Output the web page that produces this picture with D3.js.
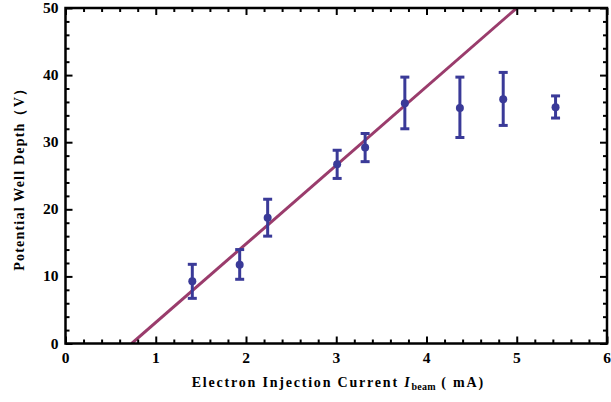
<!DOCTYPE html>
<html><head><meta charset="utf-8">
<script src="https://cdn.jsdelivr.net/npm/d3@7"></script>
<style>body{margin:0;background:#fff}svg{display:block}</style>
</head><body>
<script>
const currents = [1.405, 1.93, 2.24, 3.01, 3.32, 3.76, 4.37, 4.85, 5.43];
const depths   = [9.27, 11.75, 18.75, 26.7, 29.2, 35.8, 35.1, 36.4, 35.2];
const errUpper = [11.8, 14.0, 21.5, 28.8, 31.3, 39.7, 39.7, 40.4, 36.9];
const errLower = [6.73, 9.57, 16.0, 24.6, 27.1, 32.0, 30.7, 32.5, 33.6];
const fitX = [0.733, 5.0];
const fitY = [0, 50];
const xTicks = [0, 1, 2, 3, 4, 5, 6];
const yTicks = [0, 10, 20, 30, 40, 50];

const W = 611, H = 402;
const L = 65.5, R = 607, T = 8, B = 343.5;
const x = d3.scaleLinear().domain([0, 6]).range([L, R]);
const y = d3.scaleLinear().domain([0, 50]).range([B, T]);

const svg = d3.select("body").append("svg").attr("width", W).attr("height", H);
const font = "'Liberation Serif', 'Times New Roman', serif";

svg.append("clipPath").attr("id", "clip").append("rect")
  .attr("x", L).attr("y", T).attr("width", R - L).attr("height", B - T);

// fit line
svg.append("line").attr("clip-path", "url(#clip)")
  .attr("x1", x(fitX[0])).attr("y1", y(fitY[0]))
  .attr("x2", x(fitX[1])).attr("y2", y(fitY[1]))
  .attr("stroke", "#9a3c6c").attr("stroke-width", 3);

// error bars
const col = "#3a3a98";
const g = svg.append("g");
currents.forEach((c, i) => {
  const cx = x(c);
  g.append("line").attr("x1", cx).attr("x2", cx).attr("y1", y(errLower[i])).attr("y2", y(errUpper[i]))
    .attr("stroke", col).attr("stroke-width", 3);
  [errLower[i], errUpper[i]].forEach(v => {
    g.append("line").attr("x1", cx - 4.5).attr("x2", cx + 4.5).attr("y1", y(v)).attr("y2", y(v))
      .attr("stroke", col).attr("stroke-width", 3);
  });
  g.append("circle").attr("cx", cx).attr("cy", y(depths[i])).attr("r", 4).attr("fill", col);
});

// axes with inward ticks
function frameAxis(axis, transform, ticks, ticksize) {
  const a = svg.append("g").attr("transform", transform);
  a.call(axis.tickValues(ticks).tickSize(ticksize).tickFormat(""));
  a.select(".domain").remove();
  a.selectAll(".tick line").attr("stroke", "#000").attr("stroke-width", 2);
  return a;
}
const xMinor = d3.range(0, 6.001, 0.2).filter(v => Math.abs(v - Math.round(v)) > 1e-6);
const yMinor = d3.range(0, 50.001, 2).filter(v => v % 10 !== 0);

frameAxis(d3.axisTop(x), `translate(0,${B})`, xTicks, 7);
frameAxis(d3.axisTop(x), `translate(0,${B})`, xMinor, 4);
frameAxis(d3.axisBottom(x), `translate(0,${T})`, xTicks, 7);
frameAxis(d3.axisBottom(x), `translate(0,${T})`, xMinor, 4);
frameAxis(d3.axisRight(y), `translate(${L},0)`, yTicks, 7);
frameAxis(d3.axisRight(y), `translate(${L},0)`, yMinor, 4);
frameAxis(d3.axisLeft(y), `translate(${R},0)`, yTicks, 7);
frameAxis(d3.axisLeft(y), `translate(${R},0)`, yMinor, 4);

svg.append("rect").attr("x", L).attr("y", T).attr("width", R - L).attr("height", B - T)
  .attr("fill", "none").attr("stroke", "#000").attr("stroke-width", 2.5);

// tick labels
svg.append("g").selectAll("text").data(xTicks).join("text")
  .attr("x", d => x(d)).attr("y", B + 19).attr("text-anchor", "middle")
  .attr("font-family", font).attr("font-weight", "bold").attr("font-size", 15.5)
  .text(d => d);
svg.append("g").selectAll("text").data(yTicks).join("text")
  .attr("x", L - 7).attr("y", d => y(d) + 5).attr("text-anchor", "end")
  .attr("font-family", font).attr("font-weight", "bold").attr("font-size", 15.5)
  .text(d => d);

// x title
const xt = svg.append("text").attr("x", (L + R) / 2 + 2).attr("y", 387).attr("text-anchor", "middle")
  .attr("font-family", font).attr("font-weight", "bold").attr("font-size", 14)
  .attr("letter-spacing", 1.8);
xt.append("tspan").text("Electron Injection Current ");
xt.append("tspan").attr("font-style", "italic").text("I");
xt.append("tspan").attr("font-size", 10).attr("dy", 3).attr("letter-spacing", 0.3).text("beam");
xt.append("tspan").attr("dy", -3).text(" ( mA)");

// y title
svg.append("text").attr("transform", `translate(24,${(T + B) / 2}) rotate(-90)`)
  .attr("text-anchor", "middle")
  .attr("font-family", font).attr("font-weight", "bold").attr("font-size", 14)
  .attr("letter-spacing", 1.2)
  .text("Potential Well Depth（V）");
</script>
</body></html>
